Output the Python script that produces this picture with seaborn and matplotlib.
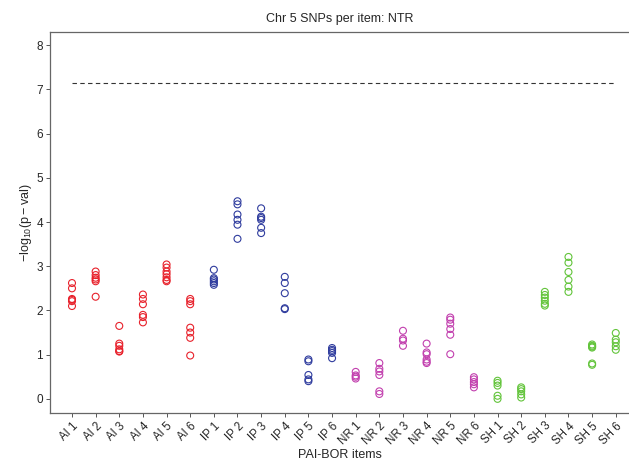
import seaborn as sns
import pandas as pd
import matplotlib.pyplot as plt

# -log10(p) per SNP, grouped by PAI-BOR scale
ai_vals = [
    [2.62, 2.50, 2.26, 2.24, 2.21, 2.10],
    [2.88, 2.80, 2.74, 2.70, 2.66, 2.31],
    [1.65, 1.25, 1.20, 1.12, 1.08, 1.07],
    [2.36, 2.26, 2.14, 1.90, 1.85, 1.73],
    [3.04, 2.97, 2.88, 2.82, 2.75, 2.69, 2.66],
    [2.26, 2.21, 2.14, 1.61, 1.50, 1.38, 0.98],
]
ip_vals = [
    [2.92, 2.73, 2.70, 2.66, 2.62, 2.58],
    [4.47, 4.40, 4.17, 4.05, 3.94, 3.62],
    [4.31, 4.12, 4.09, 4.05, 3.87, 3.75],
    [2.76, 2.62, 2.39, 2.05, 2.03],
    [0.89, 0.85, 0.54, 0.44, 0.40],
    [1.15, 1.11, 1.08, 1.04, 0.92],
]
nr_vals = [
    [0.61, 0.53, 0.50, 0.46],
    [0.81, 0.68, 0.62, 0.54, 0.17, 0.11],
    [1.54, 1.36, 1.32, 1.20],
    [1.25, 1.05, 1.01, 0.89, 0.84, 0.81],
    [1.84, 1.79, 1.70, 1.58, 1.45, 1.01],
    [0.49, 0.44, 0.38, 0.33, 0.26],
]
sh_vals = [
    [0.41, 0.36, 0.30, 0.07, 0.00],
    [0.26, 0.22, 0.17, 0.10, 0.03],
    [2.42, 2.35, 2.29, 2.22, 2.15, 2.11],
    [3.21, 3.08, 2.87, 2.69, 2.54, 2.42],
    [1.23, 1.20, 1.18, 1.16, 0.80, 0.77],
    [1.49, 1.34, 1.28, 1.19, 1.11],
]
scales = ["AI", "IP", "NR", "SH"]
colores = {"AI": "#e8212b", "IP": "#2f3c9e", "NR": "#c23fae", "SH": "#62c43a"}
umbral = 7.15

rows = []
for sc, grupo in zip(scales, [ai_vals, ip_vals, nr_vals, sh_vals]):
    for i, vals in enumerate(grupo):
        for v in vals:
            rows.append({"item": f"{sc} {i + 1}", "scale": sc, "logp": v})
df = pd.DataFrame(rows)
orden = [f"{sc} {i + 1}" for sc in scales for i in range(6)]

sns.set_style("white")
plt.rcParams["font.family"] = ["Liberation Sans", "DejaVu Sans"]
plt.rcParams["mathtext.default"] = "regular"

fig = plt.figure(figsize=(6.29, 4.63), dpi=100)
ax = fig.add_axes([0.0795, 0.108, 0.9205, 0.823])

sns.stripplot(data=df, x="item", y="logp", hue="scale", order=orden,
              palette=colores, jitter=False, size=5, linewidth=0.8,
              legend=False, ax=ax)

# open circles
for col in ax.collections:
    fc = col.get_facecolor()
    col.set_edgecolor(fc)
    col.set_facecolor("none")

ax.hlines(umbral, 0, 23, colors="#333333", linestyles=(0, (4, 3)), linewidth=0.8)

ax.set_xlim(-0.93, 23.56)
ax.set_ylim(-0.32, 8.3)
ax.set_yticks(range(0, 9))
ax.set_xticklabels(orden, rotation=45, ha="right", rotation_mode="anchor", fontsize=8.3)
ax.tick_params(axis="y", labelsize=8.5)
ax.tick_params(axis="both", direction="out", length=3, width=0.7, color="#555555",
               bottom=True, left=True, pad=2)

ax.set_xlabel("PAI-BOR items", fontsize=9, labelpad=1)
ax.set_ylabel(r"$-log_{10}(p-val)$", fontsize=9, labelpad=2)
ax.set_title("Chr 5 SNPs per item: NTR", fontsize=9, pad=7)

for s in ["left", "top", "bottom"]:
    ax.spines[s].set_color("#666666")
    ax.spines[s].set_linewidth(0.9)
ax.spines["right"].set_visible(False)

plt.savefig("out.png", dpi=100)
plt.close()
